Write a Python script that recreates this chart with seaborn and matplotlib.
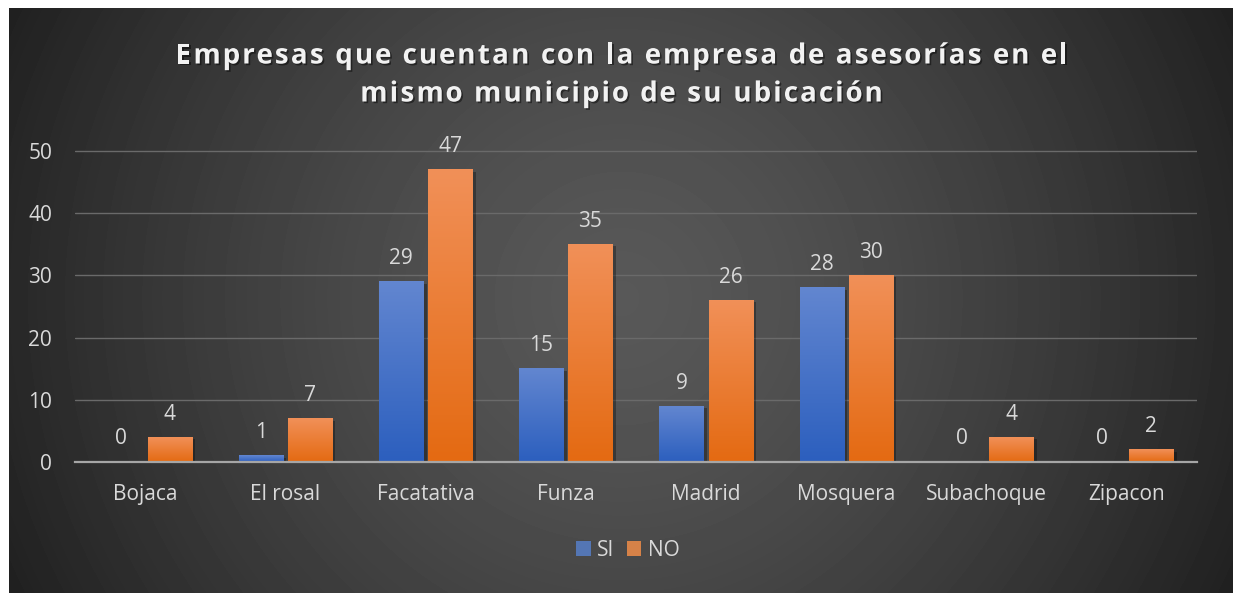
import numpy as np
import pandas as pd
import seaborn as sns
import matplotlib.pyplot as plt
from matplotlib import patheffects as pe
from matplotlib.font_manager import FontProperties

# data
municipios = ["Bojaca", "El rosal", "Facatativa", "Funza", "Madrid",
              "Mosquera", "Subachoque", "Zipacon"]
si = [0, 1, 29, 15, 9, 28, 0, 0]
no = [4, 7, 47, 35, 26, 30, 4, 2]
series = ["SI", "NO"]
titulo = ["Empresas que cuentan con la empresa de asesorías en el",
          "mismo municipio de su ubicación"]

df = pd.DataFrame({
    "Municipio": municipios * 2,
    "Respuesta": [series[0]] * len(si) + [series[1]] * len(no),
    "Empresas": si + no,
})

sns.set_theme(style="dark")
plt.rcParams["font.family"] = ["Open Sans", "DejaVu Sans"]

W, H = 1238, 593
txt = "#d9d9d9"
fs = 15
colores = {"SI": "#4472c4", "NO": "#ed7d31"}
# top / bottom of the gradient fill of each bar
grad = {"SI": ("#6286d0", "#2c5fbe"), "NO": ("#f19058", "#e46a12")}

fig = plt.figure(figsize=(W / 100, H / 100), dpi=100, facecolor="white")

# dark radial background of the chart area
bg = fig.add_axes([9 / W, 0, (1233 - 9) / W, 1 - 8 / H])
h, w = 585, 1224
yy, xx = np.mgrid[0:h, 0:w]
r = np.clip(np.hypot(xx - 612, yy - 290) / 690, 0, 1)
vals = 0x58 - (0x58 - 0x1f) * r ** 1.4
bg.imshow(vals, cmap="gray", vmin=0, vmax=255, aspect="auto",
          interpolation="bilinear")
bg.axis("off")

# plot area
ytop = 50.2
px_per = (462 - 151) / 50
ax = fig.add_axes([75 / W, 1 - 462 / H, (1197 - 75) / W, ytop * px_per / H])
ax.patch.set_alpha(0)

sns.barplot(data=df, x="Municipio", y="Empresas", hue="Respuesta",
            palette=colores, width=0.7, gap=0.1, ax=ax, legend=True,
            linewidth=0, edgecolor="none")

# gradient fill + soft shadow on every bar
for serie, cont in zip(series, ax.containers):
    top, bot = grad[serie]
    cmap = sns.blend_palette([bot, top], as_cmap=True)
    for p in cont.patches:
        x0, hgt, wd = p.get_x(), p.get_height(), p.get_width()
        if hgt <= 0:
            continue
        p.set_path_effects([pe.SimplePatchShadow(offset=(2.5, -1.5), alpha=0.3,
                                                 shadow_rgbFace="black"),
                            pe.Normal()])
        g = np.linspace(1, 0, 100).reshape(-1, 1)
        ax.imshow(g, cmap=cmap, vmin=0, vmax=1, aspect="auto",
                  extent=[x0, x0 + wd, 0, hgt], zorder=p.get_zorder() + 0.1)
    ax.bar_label(cont, padding=9, color=txt, fontsize=fs)

ax.set_xlim(-0.5, len(municipios) - 0.5)
ax.set_ylim(0, ytop)
ax.set_yticks(range(0, 51, 10))
ax.set_xlabel("")
ax.set_ylabel("")
ax.grid(axis="y", color="#6a6a6a", linewidth=1)
ax.grid(axis="x", visible=False)
ax.set_axisbelow(True)
for s in ["top", "right", "left"]:
    ax.spines[s].set_visible(False)
ax.spines["bottom"].set_color("#a6a6a6")
ax.spines["bottom"].set_linewidth(1.6)
ax.spines["bottom"].set_zorder(5)
ax.tick_params(axis="y", length=0, colors=txt, labelsize=fs, pad=16.5)
ax.tick_params(axis="x", length=0, colors=txt, labelsize=fs, pad=15.5)

handles, labels = ax.get_legend_handles_labels()
ax.get_legend().remove()
fig.legend(handles, labels, loc="center", bbox_to_anchor=(0.507, 0.072),
           ncol=2, frameon=False, handlelength=0.7, handleheight=0.7,
           handletextpad=0.3, columnspacing=0.6, labelcolor=txt, fontsize=fs)

# title with letter spacing, drawn char by char
fp = FontProperties(family="Open Sans", weight="bold", size=20)
rend = fig.canvas.get_renderer()


def ancho(s):
    return rend.get_text_width_height_descent(s, fp, ismath=False)[0]


sombra = [pe.SimplePatchShadow(offset=(1.2, -1.2), alpha=0.45,
                               shadow_rgbFace="black"), pe.Normal()]
espacio = 2.3
for linea, base in zip(titulo, [63.5, 101.5]):
    avances = [ancho("x" + c + "x") - ancho("xx") for c in linea]
    total = sum(avances) + espacio * (len(linea) - 1)
    x = 621.5 - total / 2
    for c, a in zip(linea, avances):
        if c != " ":
            fig.text((x + a / 2) / W, 1 - base / H, c, fontproperties=fp,
                     ha="center", va="baseline", color="#f2f2f2",
                     path_effects=sombra)
        x += a + espacio

fig.savefig("out.png", dpi=100, facecolor="white")
